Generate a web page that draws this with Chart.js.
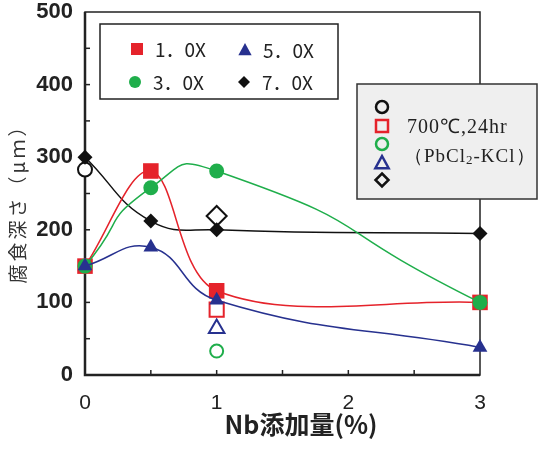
<!DOCTYPE html>
<html>
<head>
<meta charset="utf-8">
<script src="https://cdn.jsdelivr.net/npm/chart.js@4/dist/chart.umd.min.js"></script>
<style>
  html, body { margin: 0; padding: 0; background: #fff; }
  #wrap { width: 544px; height: 455px; }
</style>
</head>
<body>
<div id="wrap"><canvas id="chart" width="544" height="455"></canvas></div>
<script>
// Nb添加量 (%) と 腐食深さ (μm)
const nbAdd = [0, 0.5, 1, 3];
const depth10X = [150, 281, 116, 100];
const depth30X = [150, 258, 281, 100];
const depth50X = [150, 176, 103, 38];
const depth70X = [300, 212, 200, 195];

// 700℃,24hr (PbCl2-KCl) の白抜き点
const ref700Circle = [{ x: 0, y: 283 }];
const ref700Square = [{ x: 1, y: 90 }];
const ref700GreenCircle = [{ x: 1, y: 33 }];
const ref700Triangle = [{ x: 1, y: 64 }];
const ref700Diamond = [{ x: 1, y: 219 }];

const yTickLabels = [0, 100, 200, 300, 400, 500];
const xTickLabels = [0, 1, 2, 3];
const seriesNames = ['1．0X', '3．0X', '5．0X', '7．0X'];

const RED = '#e5232b';
const GREEN = '#1fae4b';
const BLUE = '#27318f';
const BLACK = '#111111';

const toPoints = (ys) => nbAdd.map((x, i) => ({ x: x, y: ys[i] }));

/**
 * 凡例用のマーカーを描く。
 */
function drawMarker(ctx, style, x, y, r, fill, stroke, lw) {
    ctx.save();
    ctx.beginPath();
    if (style === 'circle') {
        ctx.arc(x, y, r, 0, Math.PI * 2);
    } else if (style === 'rect') {
        ctx.rect(x - r, y - r, 2 * r, 2 * r);
    } else if (style === 'triangle') {
        ctx.moveTo(x, y - r);
        ctx.lineTo(x + r * 0.95, y + r * 0.75);
        ctx.lineTo(x - r * 0.95, y + r * 0.75);
        ctx.closePath();
    } else if (style === 'diamond') {
        ctx.moveTo(x, y - r);
        ctx.lineTo(x + r, y);
        ctx.lineTo(x, y + r);
        ctx.lineTo(x - r, y);
        ctx.closePath();
    }
    if (fill) { ctx.fillStyle = fill; ctx.fill(); }
    if (stroke) { ctx.strokeStyle = stroke; ctx.lineWidth = lw; ctx.stroke(); }
    ctx.restore();
}

const framePlugin = {
    id: 'frame',
    beforeDatasetsDraw(chart) {
        const { ctx, chartArea: a, scales } = chart;
        ctx.save();
        ctx.strokeStyle = '#222';
        // 内向きの目盛り
        ctx.lineWidth = 1.5;
        for (let v = 50; v < 500; v += 50) {
            const py = scales.y.getPixelForValue(v);
            ctx.beginPath();
            ctx.moveTo(a.left, py);
            ctx.lineTo(a.left + 5, py);
            ctx.stroke();
        }
        for (let v = 0.5; v < 3; v += 0.5) {
            const px = scales.x.getPixelForValue(v);
            ctx.beginPath();
            ctx.moveTo(px, a.bottom);
            ctx.lineTo(px, a.bottom - 5);
            ctx.stroke();
        }
        // 枠
        ctx.lineWidth = 1.5;
        ctx.strokeRect(a.left, a.top, a.right - a.left, a.bottom - a.top);
        ctx.lineWidth = 2.5;
        ctx.beginPath();
        ctx.moveTo(a.left, a.top);
        ctx.lineTo(a.left, a.bottom);
        ctx.lineTo(a.right, a.bottom);
        ctx.stroke();
        ctx.restore();
    },
    afterDraw(chart) {
        const ctx = chart.ctx;
        ctx.save();

        // 凡例 1
        ctx.fillStyle = '#fff';
        ctx.fillRect(100, 24, 238, 75);
        ctx.strokeStyle = '#222';
        ctx.lineWidth = 1.5;
        ctx.strokeRect(100, 24, 238, 75);
        const legendItems = [
            { style: 'rect', color: RED, x: 137, y: 49, r: 6 },
            { style: 'circle', color: GREEN, x: 135, y: 82, r: 6 },
            { style: 'triangle', color: BLUE, x: 245, y: 50, r: 7 },
            { style: 'diamond', color: BLACK, x: 244, y: 82, r: 6 }
        ];
        ctx.font = '19px "Noto Sans CJK JP"';
        ctx.textBaseline = 'middle';
        ctx.textAlign = 'left';
        legendItems.forEach((it, i) => {
            drawMarker(ctx, it.style, it.x, it.y, it.r, it.color, null, 0);
            ctx.fillStyle = '#222';
            ctx.fillText(seriesNames[i], it.x + 18, it.y + 1);
        });

        // 凡例 2
        ctx.fillStyle = '#efefef';
        ctx.fillRect(357, 84, 180, 115);
        ctx.strokeStyle = '#333';
        ctx.lineWidth = 1.5;
        ctx.strokeRect(357, 84, 180, 115);
        drawMarker(ctx, 'circle', 382, 107, 6, null, BLACK, 2.5);
        drawMarker(ctx, 'rect', 382, 126, 6, null, RED, 2.5);
        drawMarker(ctx, 'circle', 382, 144, 6, null, GREEN, 2.5);
        drawMarker(ctx, 'triangle', 382, 163, 7, null, BLUE, 2.5);
        drawMarker(ctx, 'diamond', 382, 180, 6.5, null, BLACK, 2.5);
        ctx.fillStyle = '#222';
        ctx.font = '20px "Liberation Serif"';
        ctx.letterSpacing = '1px';
        ctx.fillText('700℃,24hr', 407, 128);
        let tx = 404;
        const parts = [['（PbCl', 0, 19], ['2', 4, 13], ['-KCl）', 0, 19]];
        parts.forEach(([t, dy, fs]) => {
            ctx.font = fs + 'px "Liberation Serif"';
            ctx.fillText(t, tx, 157 + dy);
            tx += ctx.measureText(t).width;
        });
        ctx.letterSpacing = '0px';

        // 軸タイトル
        ctx.fillStyle = '#222';
        ctx.textAlign = 'center';
        ctx.font = 'bold 25px "Noto Sans CJK JP"';
        ctx.fillText('Nb添加量(%)', 301, 424);
        ctx.translate(18, 199);
        ctx.rotate(-Math.PI / 2);
        ctx.font = '19px "Noto Sans CJK JP"';
        ctx.letterSpacing = '3px';
        ctx.fillStyle = '#333';
        ctx.fillText('腐食深さ（μｍ）', 0, 0);
        ctx.restore();
    }
};

const lineSet = (label, ys, color, style, radius, order, tension) => ({
    label: label,
    data: toPoints(ys),
    borderColor: color,
    backgroundColor: color,
    borderWidth: 1.5,
    pointStyle: style,
    pointRadius: radius,
    pointBorderWidth: 0,
    pointBackgroundColor: color,
    tension: tension,
    clip: false,
    order: order
});

const openSet = (label, pts, color, style, radius, order) => ({
    label: label,
    data: pts,
    showLine: false,
    borderColor: color,
    backgroundColor: '#fff',
    pointStyle: style,
    pointRadius: radius,
    pointBorderWidth: 2,
    clip: false,
    order: order
});

new Chart(document.getElementById('chart'), {
    type: 'line',
    data: {
        datasets: [
            lineSet('5.0X', depth50X, BLUE, 'triangle', 8.5, 1, 0.45),
            lineSet('3.0X', depth30X, GREEN, 'circle', 7.5, 2, 0.65),
            lineSet('1.0X', depth10X, RED, 'rect', 11, 3, 0.35),
            lineSet('7.0X', depth70X, BLACK, 'rectRot', 7.5, 4, 0.45),
            openSet('700 circle', ref700Circle, BLACK, 'circle', 7, 5),
            openSet('700 square', ref700Square, RED, 'rect', 10, 6),
            openSet('700 green', ref700GreenCircle, GREEN, 'circle', 6.5, 7),
            openSet('700 triangle', ref700Triangle, BLUE, 'triangle', 9, 8),
            openSet('700 diamond', ref700Diamond, BLACK, 'rectRot', 10, 9)
        ]
    },
    options: {
        responsive: false,
        animation: false,
        layout: { padding: { top: 12, right: 64, left: 0, bottom: 0 } },
        plugins: { legend: { display: false }, tooltip: { enabled: false } },
        scales: {
            x: {
                type: 'linear',
                min: 0,
                max: 3,
                grid: { display: false, drawTicks: false },
                border: { display: false },
                afterFit: (s) => { s.height = 80; s.paddingLeft = 0; s.paddingRight = 0; },
                afterBuildTicks: (s) => { s.ticks = xTickLabels.map(v => ({ value: v })); },
                ticks: {
                    padding: 16,
                    color: '#222',
                    font: { family: '"Liberation Sans Narrow", "Liberation Sans"', size: 21 }
                }
            },
            y: {
                min: 0,
                max: 500,
                grid: { display: false, drawTicks: false },
                border: { display: false },
                afterFit: (s) => { s.width = 85; s.paddingTop = 0; s.paddingBottom = 0; },
                afterBuildTicks: (s) => { s.ticks = yTickLabels.map(v => ({ value: v })); },
                ticks: {
                    padding: 12,
                    color: '#222',
                    font: { family: '"Liberation Sans Narrow", "Liberation Sans"', size: 22, weight: 'bold' }
                }
            }
        }
    },
    plugins: [framePlugin]
});
</script>
</body>
</html>
